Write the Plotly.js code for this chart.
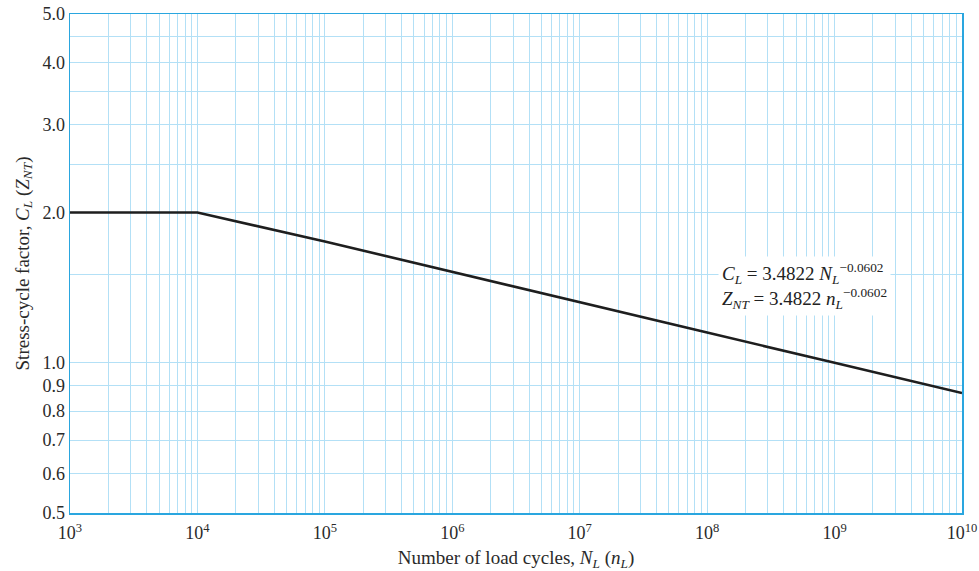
<!DOCTYPE html>
<html><head><meta charset="utf-8">
<script src="https://cdn.plot.ly/plotly-3.0.1.min.js"></script>
<style>html,body{margin:0;padding:0;background:#fff}#chart{width:979px;height:571px}</style>
</head><body><div id="chart"></div>
<script>
// Data
var cycles = [1e3, 1e4, 1e5, 1e6, 1e7, 1e8, 1e9, 1e10];
var factor = [2.0, 2.0, 1.75, 1.52, 1.32, 1.15, 1.0, 0.87];

var xDecades = [3, 4, 5, 6, 7, 8, 9, 10];
var yLabeled = [0.5, 0.6, 0.7, 0.8, 0.9, 1.0, 2.0, 3.0, 4.0, 5.0];
var yLabelText = ["0.5", "0.6", "0.7", "0.8", "0.9", "1.0", "2.0", "3.0", "4.0", "5.0"];
var yExtraGrid = [1.5, 2.5, 3.5, 4.5];

var xTickVals = xDecades.map(function (d) { return Math.pow(10, d); });
var xTickText = xDecades.map(function (d) { return "10<sup>" + d + "</sup>"; });
var xMinorVals = [];
xDecades.slice(0, -1).forEach(function (d) {
  for (var m = 2; m <= 9; m++) xMinorVals.push(m * Math.pow(10, d));
});

var gridC = "#b3e0f6";
var axisC = "#2aa6df";
var serif = "Liberation Serif, Times New Roman, serif";

var trace = {
  x: cycles, y: factor, type: "scatter", mode: "lines",
  line: {color: "#1e1e1e", width: 2.6}, hoverinfo: "skip", showlegend: false
};

var layout = {
  width: 979, height: 571,
  margin: {l: 70, r: 17, t: 14, b: 58},
  paper_bgcolor: "#fff", plot_bgcolor: "#fff",
  font: {family: serif, color: "#2a2a2a", size: 18},
  xaxis: {
    type: "log", range: [3, 10], tickmode: "array",
    tickvals: xTickVals, ticktext: xTickText,
    showgrid: true, gridcolor: gridC, gridwidth: 1,
    minor: {tickmode: "array", tickvals: xMinorVals, showgrid: true, gridcolor: gridC, gridwidth: 1, ticks: ""},
    showline: true, linecolor: axisC, linewidth: 1.5, mirror: true,
    ticks: "", zeroline: false, tickfont: {size: 18}, ticklabelstandoff: 3,
    title: {text: "Number of load cycles, <i>N</i><sub><i>L</i></sub> (<i>n</i><sub><i>L</i></sub>)", font: {size: 19}, standoff: 8}
  },
  yaxis: {
    type: "log", range: [Math.log10(0.5), Math.log10(5.0)], tickmode: "array",
    tickvals: yLabeled, ticktext: yLabelText,
    showgrid: true, gridcolor: gridC, gridwidth: 1,
    minor: {tickmode: "array", tickvals: yExtraGrid, showgrid: true, gridcolor: gridC, gridwidth: 1, ticks: ""},
    showline: true, linecolor: axisC, linewidth: 1.5, mirror: true,
    ticks: "", zeroline: false, tickfont: {size: 18},
    title: {text: "Stress-cycle factor, <i>C</i><sub><i>L</i></sub> (<i>Z</i><sub><i>NT</i></sub>)", font: {size: 19}, standoff: 8}
  },
  annotations: [{
    xref: "paper", yref: "paper", x: 0.727, y: 0.455, xanchor: "left", yanchor: "middle",
    align: "left", showarrow: false, bgcolor: "#ffffff", borderpad: 3,
    font: {family: serif, size: 19, color: "#222"},
    text: "<i>C</i><sub><i>L</i></sub> = 3.4822 <i>N</i><sub><i>L</i></sub><sup>−0.0602</sup><br><i>Z</i><sub><i>NT</i></sub> = 3.4822 <i>n</i><sub><i>L</i></sub><sup>−0.0602</sup>"
  }]
};

Plotly.newPlot("chart", [trace], layout, {displayModeBar: false, staticPlot: true});
</script></body></html>
